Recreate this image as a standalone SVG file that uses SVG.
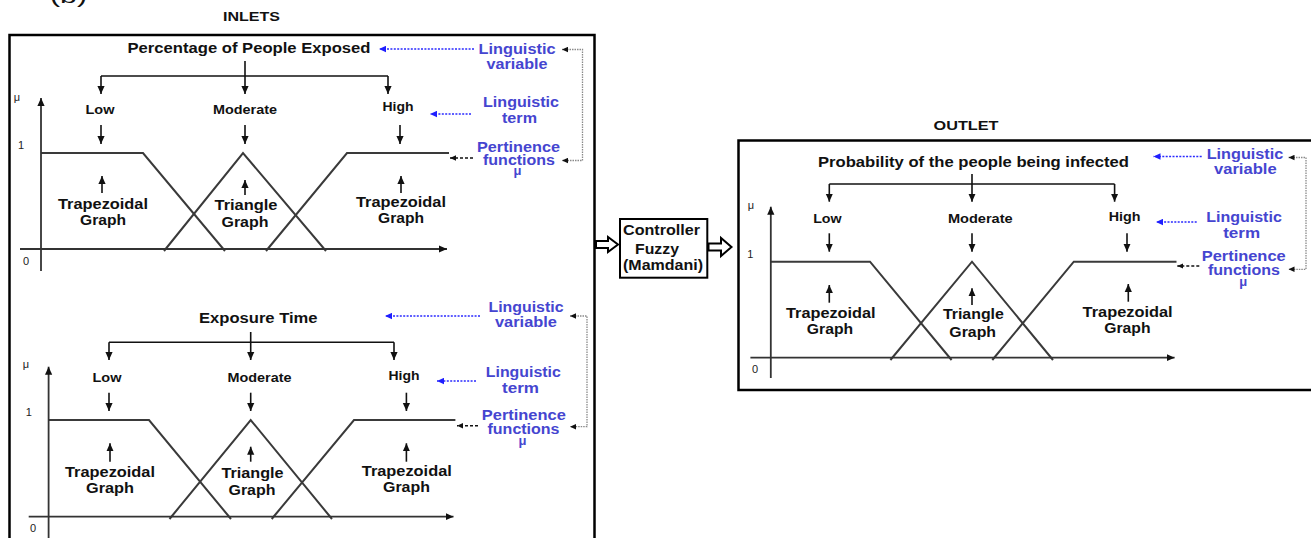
<svg xmlns="http://www.w3.org/2000/svg" width="1311" height="538" viewBox="0 0 1311 538">
<defs>
<marker id="ah" markerUnits="userSpaceOnUse" markerWidth="8" markerHeight="8" refX="8" refY="4" orient="auto-start-reverse"><path d="M0,0.4 L8,4 L0,7.6 z" fill="#111"/></marker>
<marker id="ahs" markerUnits="userSpaceOnUse" markerWidth="6" markerHeight="6" refX="6" refY="3" orient="auto-start-reverse"><path d="M0,0.3 L6,3 L0,5.7 z" fill="#111"/></marker>
<marker id="ahb" markerUnits="userSpaceOnUse" markerWidth="7" markerHeight="7" refX="7" refY="3.5" orient="auto"><path d="M0,0.3 L7,3.5 L0,6.7 z" fill="#1f1fff"/></marker>
</defs>
<style>
text{font-family:"Liberation Sans",Arial,sans-serif;font-weight:bold;fill:#111;text-anchor:middle}
.t14{font-size:14px}
.t13{font-size:13px}
.t12{font-size:12px}
.b{fill:#4545d0;font-size:14px}
.mu{fill:#4545d0;font-size:13px}
.n{font-weight:normal;font-size:11px;fill:#222}
.g{fill:none;stroke:#3a3a3a;stroke-width:2}
.ax{fill:none;stroke:#333;stroke-width:1.8;marker-end:url(#ah)}
.ar{fill:none;stroke:#111;stroke-width:1.6;marker-end:url(#ah)}
.ln{fill:none;stroke:#111;stroke-width:1.6}
.bl{fill:none;stroke:#2a2aff;stroke-width:1.6;stroke-dasharray:2 1.4;marker-end:url(#ahb)}
.dk{fill:none;stroke:#111;stroke-width:1.5;stroke-dasharray:3 2;marker-end:url(#ahs)}
.gr{fill:none;stroke:#8a8a8a;stroke-width:1.3;stroke-dasharray:1.5 1;marker-start:url(#ahs);marker-end:url(#ahs)}
.box{fill:none;stroke:#000;stroke-width:2.5}
.hol{fill:#fff;stroke:#000;stroke-width:2;stroke-linejoin:miter}
</style>
<rect width="1311" height="538" fill="#fff"/>

<g id="label-b"><text x="68.5" y="2.5" style="font-size:20px;font-weight:normal" textLength="37" lengthAdjust="spacingAndGlyphs">(b)</text></g>

<g id="inlets">
<text class="t13" x="251.5" y="21" textLength="57" lengthAdjust="spacingAndGlyphs">INLETS</text>
<rect class="box" x="9.5" y="35" width="585" height="515"/>
</g>

<!-- Inlet 1 -->
<g id="inlet1-graph">
<text class="t14" x="249" y="53" textLength="243" lengthAdjust="spacingAndGlyphs">Percentage of People Exposed</text>
<text class="n" x="17" y="101">μ</text>
<text class="n" x="21" y="149">1</text>
<text class="n" x="26" y="265">0</text>
<text class="t12" x="100" y="114" textLength="29" lengthAdjust="spacingAndGlyphs">Low</text>
<text class="t12" x="245" y="114" textLength="64" lengthAdjust="spacingAndGlyphs">Moderate</text>
<text class="t12" x="398" y="111" textLength="31" lengthAdjust="spacingAndGlyphs">High</text>
<path class="g" d="M41,153 H143 L225,251"/>
<path class="g" d="M164,251 L243,153 L326,251"/>
<path class="g" d="M266,251 L347,153 H449"/>
<text class="t14" x="103" y="209" textLength="90" lengthAdjust="spacingAndGlyphs">Trapezoidal</text>
<text class="t14" x="103" y="225" textLength="46" lengthAdjust="spacingAndGlyphs">Graph</text>
<text class="t14" x="246" y="210" textLength="63" lengthAdjust="spacingAndGlyphs">Triangle</text>
<text class="t14" x="245" y="227" textLength="47" lengthAdjust="spacingAndGlyphs">Graph</text>
<text class="t14" x="401" y="207" textLength="90" lengthAdjust="spacingAndGlyphs">Trapezoidal</text>
<text class="t14" x="401" y="223" textLength="46" lengthAdjust="spacingAndGlyphs">Graph</text>
</g>
<g id="inlet1-legend">
<text class="b" x="517" y="54" textLength="77" lengthAdjust="spacingAndGlyphs">Linguistic</text>
<text class="b" x="517" y="69" textLength="61" lengthAdjust="spacingAndGlyphs">variable</text>
<text class="b" x="521" y="107" textLength="76" lengthAdjust="spacingAndGlyphs">Linguistic</text>
<text class="b" x="519.5" y="122.5" textLength="35" lengthAdjust="spacingAndGlyphs">term</text>
<text class="b" x="518.5" y="151.5" textLength="83" lengthAdjust="spacingAndGlyphs">Pertinence</text>
<text class="b" x="519" y="164.5" textLength="72" lengthAdjust="spacingAndGlyphs">functions</text>
<text class="mu" x="517.5" y="174.5">μ</text>
</g>

<!-- Inlet 2 -->
<g id="inlet2-graph">
<text class="t14" x="258.3" y="323" textLength="118.6" lengthAdjust="spacingAndGlyphs">Exposure Time</text>
<text class="n" x="26" y="368">μ</text>
<text class="n" x="28.7" y="416">1</text>
<text class="n" x="33" y="532">0</text>
<text class="t12" x="107" y="382" textLength="29" lengthAdjust="spacingAndGlyphs">Low</text>
<text class="t12" x="259.5" y="382" textLength="64" lengthAdjust="spacingAndGlyphs">Moderate</text>
<text class="t12" x="404" y="379.5" textLength="31" lengthAdjust="spacingAndGlyphs">High</text>
<path class="g" d="M48.6,420 H149 L231,519"/>
<path class="g" d="M169.5,519 L250.7,420 L332,519"/>
<path class="g" d="M271.7,519 L354,420 H455.4"/>
<text class="t14" x="110" y="477.3" textLength="90" lengthAdjust="spacingAndGlyphs">Trapezoidal</text>
<text class="t14" x="110" y="492.7" textLength="48" lengthAdjust="spacingAndGlyphs">Graph</text>
<text class="t14" x="252.6" y="478" textLength="62" lengthAdjust="spacingAndGlyphs">Triangle</text>
<text class="t14" x="252" y="495" textLength="47" lengthAdjust="spacingAndGlyphs">Graph</text>
<text class="t14" x="406.8" y="476" textLength="90" lengthAdjust="spacingAndGlyphs">Trapezoidal</text>
<text class="t14" x="406.5" y="492" textLength="47" lengthAdjust="spacingAndGlyphs">Graph</text>
</g>
<g id="inlet2-legend">
<text class="b" x="526" y="312" textLength="75" lengthAdjust="spacingAndGlyphs">Linguistic</text>
<text class="b" x="526" y="327" textLength="62" lengthAdjust="spacingAndGlyphs">variable</text>
<text class="b" x="523.3" y="377" textLength="75" lengthAdjust="spacingAndGlyphs">Linguistic</text>
<text class="b" x="520.5" y="393" textLength="37" lengthAdjust="spacingAndGlyphs">term</text>
<text class="b" x="523.8" y="420" textLength="84" lengthAdjust="spacingAndGlyphs">Pertinence</text>
<text class="b" x="523.5" y="433.5" textLength="72" lengthAdjust="spacingAndGlyphs">functions</text>
<text class="mu" x="522.5" y="444.5">μ</text>
</g>

<!-- Controller -->
<g id="controller">
<rect x="620" y="219" width="87.3" height="58.7" fill="#fff" stroke="#000" stroke-width="2"/>
<text class="t14" x="661.5" y="235.3" style="font-size:15px" textLength="77" lengthAdjust="spacingAndGlyphs">Controller</text>
<text class="t14" x="657" y="253.5" style="font-size:15px" textLength="44" lengthAdjust="spacingAndGlyphs">Fuzzy</text>
<text class="t14" x="663" y="270" style="font-size:15px" textLength="80" lengthAdjust="spacingAndGlyphs">(Mamdani)</text>
</g>

<!-- Outlet -->
<g id="outlet">
<text class="t13" x="966" y="130" textLength="65" lengthAdjust="spacingAndGlyphs">OUTLET</text>
<rect class="box" x="738.5" y="140.5" width="600" height="249.5"/>
</g>
<g id="outlet-graph">
<text class="t14" x="973.5" y="166.5" textLength="311" lengthAdjust="spacingAndGlyphs">Probability of the people being infected</text>
<text class="n" x="751" y="209">μ</text>
<text class="n" x="750.4" y="257.5">1</text>
<text class="n" x="755" y="372.5">0</text>
<text class="t12" x="827.4" y="223" textLength="28.5" lengthAdjust="spacingAndGlyphs">Low</text>
<text class="t12" x="980.3" y="223" textLength="64.8" lengthAdjust="spacingAndGlyphs">Moderate</text>
<text class="t12" x="1124.6" y="220.5" textLength="31.8" lengthAdjust="spacingAndGlyphs">High</text>
<path class="g" d="M770.8,261.7 H870 L951.6,360"/>
<path class="g" d="M890.4,360 L972,261.7 L1053,360"/>
<path class="g" d="M992.3,360 L1073.8,261.7 H1176.5"/>
<text class="t14" x="830.8" y="318" textLength="89.6" lengthAdjust="spacingAndGlyphs">Trapezoidal</text>
<text class="t14" x="830" y="334" textLength="46.3" lengthAdjust="spacingAndGlyphs">Graph</text>
<text class="t14" x="973.4" y="319" textLength="61" lengthAdjust="spacingAndGlyphs">Triangle</text>
<text class="t14" x="972.7" y="336.5" textLength="46.7" lengthAdjust="spacingAndGlyphs">Graph</text>
<text class="t14" x="1127.6" y="316.7" textLength="90" lengthAdjust="spacingAndGlyphs">Trapezoidal</text>
<text class="t14" x="1127.4" y="332.7" textLength="46.3" lengthAdjust="spacingAndGlyphs">Graph</text>
</g>
<g id="outlet-legend">
<text class="b" x="1245" y="158.5" textLength="76.6" lengthAdjust="spacingAndGlyphs">Linguistic</text>
<text class="b" x="1245.3" y="174.3" textLength="62.7" lengthAdjust="spacingAndGlyphs">variable</text>
<text class="b" x="1244" y="221.5" textLength="75.7" lengthAdjust="spacingAndGlyphs">Linguistic</text>
<text class="b" x="1241.7" y="237.5" textLength="37" lengthAdjust="spacingAndGlyphs">term</text>
<text class="b" x="1243.7" y="261.2" textLength="84" lengthAdjust="spacingAndGlyphs">Pertinence</text>
<text class="b" x="1244" y="275.2" textLength="72" lengthAdjust="spacingAndGlyphs">functions</text>
<text class="mu" x="1243.3" y="285.5">μ</text>
</g>

<g id="connectors">
<!-- inlet 1 -->
<path class="ax" d="M41,271 V98"/>
<path class="ax" d="M20,249 H447"/>
<path class="ln" d="M101,76 H388"/>
<path class="ar" d="M245,61 V94"/>
<path class="ar" d="M101,76 V94"/>
<path class="ar" d="M388,76 V94"/>
<path class="ar" d="M101,125 V144"/>
<path class="ar" d="M245,125 V144"/>
<path class="ar" d="M400,125 V144"/>
<path class="ar" d="M102,193 V176"/>
<path class="ar" d="M245,195 V180"/>
<path class="ar" d="M401,193 V176"/>
<path class="bl" d="M474,49 H379"/>
<path class="bl" d="M471,114 H430"/>
<path class="dk" d="M473,158 H450"/>
<path class="gr" d="M562,49.5 H582.5 V160.5 H562"/>
<!-- inlet 2 -->
<path class="ax" d="M48.6,545 V366.7"/>
<path class="ax" d="M28.7,516.7 H453.5"/>
<path class="ln" d="M109,342.3 H394"/>
<path class="ar" d="M250.7,332 V360"/>
<path class="ar" d="M109,342.3 V360"/>
<path class="ar" d="M394,342.3 V360"/>
<path class="ar" d="M109,392.7 V411"/>
<path class="ar" d="M250.7,392.7 V411"/>
<path class="ar" d="M406.4,392.7 V411"/>
<path class="ar" d="M110,461.7 V443.3"/>
<path class="ar" d="M250.7,461.7 V446.7"/>
<path class="ar" d="M406.4,461.7 V443.3"/>
<path class="bl" d="M480,316 H385"/>
<path class="bl" d="M476,381 H437"/>
<path class="dk" d="M478,425.7 H457"/>
<path class="gr" d="M570,316 H587 V426.7 H570"/>
<!-- controller arrows -->
<path class="hol" d="M596,241 H608 V237 L618,244.5 L608,252 V248 H596 Z"/>
<path class="hol" d="M708.5,243.5 H721 V238 L731.5,247 L721,256 V250.5 H708.5 Z"/>
<!-- outlet -->
<path class="ax" d="M770.8,378 V206.7"/>
<path class="ax" d="M750.4,357.7 H1174.6"/>
<path class="ln" d="M829.3,184 H1114.6"/>
<path class="ar" d="M972,174 V201.7"/>
<path class="ar" d="M829.3,184 V201.7"/>
<path class="ar" d="M1114.6,184 V201.7"/>
<path class="ar" d="M829.3,233.3 V251.7"/>
<path class="ar" d="M972,233.3 V251.7"/>
<path class="ar" d="M1127,233.3 V251.7"/>
<path class="ar" d="M829.3,302.7 V285"/>
<path class="ar" d="M972,305 V288.3"/>
<path class="ar" d="M1128.3,301.7 V284"/>
<path class="bl" d="M1201.7,156.5 H1153.5"/>
<path class="bl" d="M1196.7,222 H1156"/>
<path class="dk" d="M1199.3,266 H1177.3"/>
<path class="gr" d="M1288.5,157.5 H1306 V269.3 H1288.5"/>
</g>
</svg>
